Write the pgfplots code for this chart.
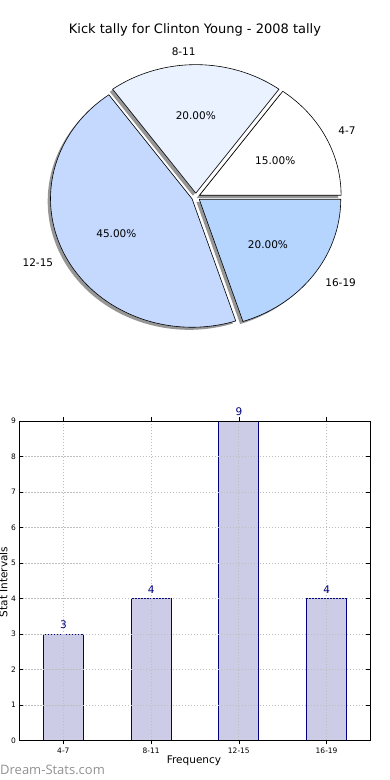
\documentclass[border=0pt]{standalone}
\usepackage{pgfplots}
\pgfplotsset{compat=1.18}
\usepackage{fontspec}
\setmainfont{DejaVu Sans}
\newfontfamily\wmfont{Open Sans}
\pgfplotsset{/pgf/number format/assume math mode=true}
\definecolor{pieA}{RGB}{255,255,255}
\definecolor{pieB}{RGB}{235,242,255}
\definecolor{pieC}{RGB}{197,217,255}
\definecolor{pieD}{RGB}{181,213,255}
\definecolor{barfill}{RGB}{204,204,230}
\definecolor{navyc}{RGB}{0,0,128}
\definecolor{shadowc}{RGB}{150,150,150}
\definecolor{gridc}{RGB}{190,190,190}
\definecolor{wmc}{RGB}{145,145,145}

% data: kick tally per interval
\def\vA{3}\def\vB{4}\def\vC{9}\def\vD{4}
\pgfmathsetmacro\tot{\vA+\vB+\vC+\vD}
\pgfmathsetmacro\aA{0}
\pgfmathsetmacro\aB{\aA+360*\vA/\tot}
\pgfmathsetmacro\aC{\aB+360*\vB/\tot}
\pgfmathsetmacro\aD{\aC+360*\vC/\tot}
\pgfmathsetmacro\aE{\aD+360*\vD/\tot}
\newcommand\mkoff[3]{% name, start, end
  \pgfmathsetmacro\tmpm{(#2+#3)/2}%
  \expandafter\xdef\csname ex#1\endcsname{\fpeval{0.03*cosd(\tmpm)}}%
  \expandafter\xdef\csname ey#1\endcsname{\fpeval{0.03*sind(\tmpm)}}%
  \expandafter\xdef\csname sx#1\endcsname{\fpeval{0.03*cosd(\tmpm)-0.02}}%
  \expandafter\xdef\csname sy#1\endcsname{\fpeval{0.03*sind(\tmpm)-0.02}}%
}
\mkoff{A}{\aA}{\aB}
\mkoff{B}{\aB}{\aC}
\mkoff{C}{\aC}{\aD}
\mkoff{D}{\aD}{\aE}

\begin{document}
\begin{tikzpicture}
\useasboundingbox (0,0) rectangle (390pt,780pt);
% ---------------- pie ----------------
\begin{axis}[at={(0pt,390pt)}, anchor=south west, scale only axis,
  width=390pt, height=390pt,
  xmin=-1.38375, xmax=1.37244, ymin=-1.5019, ymax=1.5331,
  hide axis, clip=false]
% shadows
\addplot[draw=none, fill=shadowc, domain=\aA:\aB, samples=60] ({\sxA+cos(x)},{\syA+sin(x)}) -- (axis cs:\sxA,\syA) -- cycle;
\addplot[draw=none, fill=shadowc, domain=\aB:\aC, samples=60] ({\sxB+cos(x)},{\syB+sin(x)}) -- (axis cs:\sxB,\syB) -- cycle;
\addplot[draw=none, fill=shadowc, domain=\aC:\aD, samples=120] ({\sxC+cos(x)},{\syC+sin(x)}) -- (axis cs:\sxC,\syC) -- cycle;
\addplot[draw=none, fill=shadowc, domain=\aD:\aE, samples=60] ({\sxD+cos(x)},{\syD+sin(x)}) -- (axis cs:\sxD,\syD) -- cycle;
% wedges
\addplot[draw=black, line width=0.6pt, fill=pieA, domain=\aA:\aB, samples=60] ({\exA+cos(x)},{\eyA+sin(x)}) -- (axis cs:\exA,\eyA) -- cycle;
\addplot[draw=black, line width=0.6pt, fill=pieB, domain=\aB:\aC, samples=60] ({\exB+cos(x)},{\eyB+sin(x)}) -- (axis cs:\exB,\eyB) -- cycle;
\addplot[draw=black, line width=0.6pt, fill=pieC, domain=\aC:\aD, samples=120] ({\exC+cos(x)},{\eyC+sin(x)}) -- (axis cs:\exC,\eyC) -- cycle;
\addplot[draw=black, line width=0.6pt, fill=pieD, domain=\aD:\aE, samples=60] ({\exD+cos(x)},{\eyD+sin(x)}) -- (axis cs:\exD,\eyD) -- cycle;
% labels
\node[font=\fontsize{13}{15}\selectfont] at (axis cs:-0.006,1.30) {Kick tally for Clinton Young - 2008 tally};
\begin{scope}[every node/.style={font=\fontsize{10.5}{12}\selectfont, inner sep=0pt}]
\node[anchor=west] at (axis cs:1.0068,0.5130) {4-7};
\node[anchor=east] at (axis cs:0,1.13) {8-11};
\node[anchor=east] at (axis cs:-1.0068,-0.5130) {12-15};
\node[anchor=west] at (axis cs:0.9142,-0.6642) {16-19};
\node at (axis cs:0.5613,0.2860) {15.00\%};
\node at (axis cs:0,0.63) {20.00\%};
\node at (axis cs:-0.5613,-0.2860) {45.00\%};
\node at (axis cs:0.5097,-0.3703) {20.00\%};
\end{scope}
\end{axis}
% ---------------- bars ----------------
\begin{axis}[at={(19.5pt,39.5pt)}, anchor=south west, scale only axis,
  width=351pt, height=319.5pt,
  xmin=-0.5, xmax=3.5, ymin=0, ymax=9,
  xtick={0,1,2,3}, xticklabels={4-7,8-11,12-15,16-19},
  ytick={0,1,...,9},
  tick align=inside, major tick length=4pt,
  tick style={black, line width=0.6pt},
  grid=major,
  major grid style={gridc, line width=0.8pt, dash pattern=on 1.2pt off 1.8pt},
  axis line style={line width=0.8pt},
  axis on top,
  tick label style={font=\fontsize{7.5}{9}\selectfont},
  ybar, bar width=40pt,
  nodes near coords,
  nodes near coords style={font=\fontsize{10.5}{12}\selectfont, text=navyc, inner sep=0pt, yshift=4.5pt},
  clip=false]
\addplot[solid, fill=barfill, draw=navyc, line width=1pt] coordinates {(0,3) (1,4) (2,9) (3,4)};
\end{axis}
\node[font=\fontsize{10.5}{12}\selectfont, anchor=base] at (194pt,16.7pt) {Frequency};
\node[font=\fontsize{10.5}{12}\selectfont, rotate=90, anchor=base, inner sep=0pt] at (7.5pt,198pt) {Stat Intervals};
\node[font=\wmfont\fontsize{13}{15}\selectfont, text=wmc, anchor=base west, inner sep=0pt] at (0pt,5.5pt) {Dream-Stats.com};
\end{tikzpicture}
\end{document}
